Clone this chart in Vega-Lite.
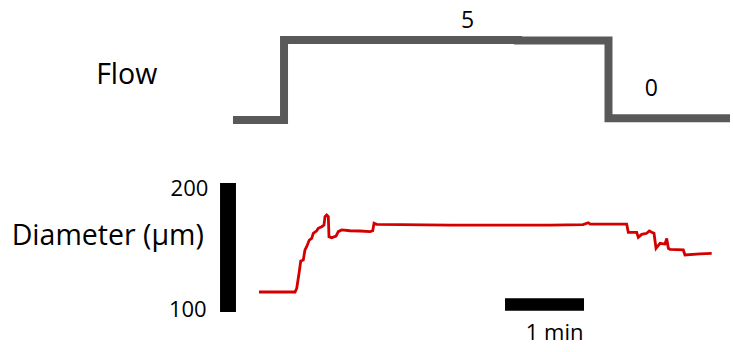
{
  "$schema": "https://vega.github.io/schema/vega-lite/v6.json",
  "width": 733,
  "height": 352,
  "autosize": {"type": "none"},
  "padding": 0,
  "background": "white",
  "config": {"view": {"stroke": null}},
  "datasets": {
    "flow": [
      {"t": -0.338, "flow": 0},
      {"t": 0.325, "flow": 5},
      {"t": 3.364, "flow": 4.97},
      {"t": 4.539, "flow": 0.11},
      {"t": 6.117, "flow": 0.11}
    ],
    "diam": [
      {"t": 0.0, "d": 115.5},
      {"t": 0.468, "d": 115.5},
      {"t": 0.49, "d": 118.4},
      {"t": 0.523, "d": 131.2},
      {"t": 0.542, "d": 139.5},
      {"t": 0.575, "d": 140.3},
      {"t": 0.597, "d": 148.1},
      {"t": 0.619, "d": 150.6},
      {"t": 0.653, "d": 155.8},
      {"t": 0.684, "d": 157.1},
      {"t": 0.705, "d": 161.0},
      {"t": 0.749, "d": 163.0},
      {"t": 0.77, "d": 164.9},
      {"t": 0.814, "d": 166.1},
      {"t": 0.844, "d": 167.4},
      {"t": 0.857, "d": 173.9},
      {"t": 0.879, "d": 175.2},
      {"t": 0.9, "d": 173.9},
      {"t": 0.909, "d": 158.4},
      {"t": 0.944, "d": 157.6},
      {"t": 1.0, "d": 158.9},
      {"t": 1.03, "d": 162.3},
      {"t": 1.074, "d": 163.6},
      {"t": 1.182, "d": 163.0},
      {"t": 1.312, "d": 162.8},
      {"t": 1.442, "d": 162.3},
      {"t": 1.477, "d": 163.0},
      {"t": 1.494, "d": 168.8},
      {"t": 1.529, "d": 168.0},
      {"t": 2.48, "d": 167.4},
      {"t": 3.78, "d": 167.4},
      {"t": 4.208, "d": 167.7},
      {"t": 4.277, "d": 169.2},
      {"t": 4.3, "d": 168.2},
      {"t": 4.775, "d": 168.2},
      {"t": 4.796, "d": 161.8},
      {"t": 4.905, "d": 161.8},
      {"t": 4.926, "d": 157.9},
      {"t": 4.97, "d": 160.2},
      {"t": 5.035, "d": 161.0},
      {"t": 5.069, "d": 162.8},
      {"t": 5.1, "d": 161.8},
      {"t": 5.13, "d": 161.0},
      {"t": 5.156, "d": 149.4},
      {"t": 5.208, "d": 153.3},
      {"t": 5.273, "d": 152.7},
      {"t": 5.295, "d": 157.1},
      {"t": 5.316, "d": 149.4},
      {"t": 5.338, "d": 148.6},
      {"t": 5.51, "d": 148.1},
      {"t": 5.532, "d": 144.2},
      {"t": 5.727, "d": 145.0},
      {"t": 5.879, "d": 145.5}
    ],
    "bars": [
      {"t": -0.506, "t2": -0.299, "d": 100, "d2": 200},
      {"t": 3.195, "t2": 4.221, "d": 101.0, "d2": 110.6}
    ]
  },
  "layer": [
    {
      "data": {"name": "flow"},
      "mark": {"type": "line", "interpolate": "step-after", "color": "#595959", "strokeWidth": 8, "strokeCap": "butt", "strokeJoin": "miter"},
      "encoding": {
        "x": {"field": "t", "type": "quantitative", "scale": {"domain": [-3.3636, 6.1558], "nice": false, "zero": false}, "axis": null},
        "y": {"field": "flow", "type": "quantitative", "scale": {"domain": [-14.5, 7.5], "nice": false, "zero": false}, "axis": null}
      }
    },
    {
      "data": {"values": [{"t": -1.718, "flow": 2.23, "label": "Flow"}]},
      "mark": {"type": "text", "font": "Open Sans", "fontSize": 28.5, "align": "center", "baseline": "alphabetic", "color": "#000000"},
      "encoding": {
        "x": {"field": "t", "type": "quantitative", "scale": {"domain": [-3.3636, 6.1558], "nice": false, "zero": false}, "axis": null},
        "y": {"field": "flow", "type": "quantitative", "scale": {"domain": [-14.5, 7.5], "nice": false, "zero": false}, "axis": null},
        "text": {"field": "label"}
      }
    },
    {
      "data": {"values": [{"t": 2.708, "flow": 5.73, "label": "5"}, {"t": 5.094, "flow": 1.52, "label": "0"}]},
      "mark": {"type": "text", "font": "Open Sans", "fontSize": 23, "align": "center", "baseline": "alphabetic", "color": "#000000"},
      "encoding": {
        "x": {"field": "t", "type": "quantitative", "scale": {"domain": [-3.3636, 6.1558], "nice": false, "zero": false}, "axis": null},
        "y": {"field": "flow", "type": "quantitative", "scale": {"domain": [-14.5, 7.5], "nice": false, "zero": false}, "axis": null},
        "text": {"field": "label"}
      }
    },
    {
      "data": {"name": "diam"},
      "mark": {"type": "line", "color": "#D40000", "strokeWidth": 2.8, "interpolate": "linear"},
      "encoding": {
        "x": {"field": "t", "type": "quantitative", "scale": {"domain": [-3.3636, 6.1558], "nice": false, "zero": false}, "axis": null},
        "y": {"field": "d", "type": "quantitative", "scale": {"domain": [69.0, 341.87], "nice": false, "zero": false}, "axis": null}
      }
    },
    {
      "data": {"name": "bars"},
      "mark": {"type": "rect", "color": "#000000"},
      "encoding": {
        "x": {"field": "t", "type": "quantitative", "scale": {"domain": [-3.3636, 6.1558], "nice": false, "zero": false}, "axis": null},
        "x2": {"field": "t2"},
        "y": {"field": "d", "type": "quantitative", "scale": {"domain": [69.0, 341.87], "nice": false, "zero": false}, "axis": null},
        "y2": {"field": "d2"}
      }
    },
    {
      "data": {"values": [{"t": -3.212, "d": 151.9, "label": "Diameter (µm)"}]},
      "mark": {"type": "text", "font": "Open Sans", "fontSize": 28.5, "align": "left", "baseline": "alphabetic", "color": "#000000"},
      "encoding": {
        "x": {"field": "t", "type": "quantitative", "scale": {"domain": [-3.3636, 6.1558], "nice": false, "zero": false}, "axis": null},
        "y": {"field": "d", "type": "quantitative", "scale": {"domain": [69.0, 341.87], "nice": false, "zero": false}, "axis": null},
        "text": {"field": "label"}
      }
    },
    {
      "data": {"values": [{"t": -0.658, "d": 189.9, "label": "200"}, {"t": -0.679, "d": 96.4, "label": "100"}]},
      "mark": {"type": "text", "font": "Open Sans", "fontSize": 22, "align": "right", "baseline": "alphabetic", "color": "#000000"},
      "encoding": {
        "x": {"field": "t", "type": "quantitative", "scale": {"domain": [-3.3636, 6.1558], "nice": false, "zero": false}, "axis": null},
        "y": {"field": "d", "type": "quantitative", "scale": {"domain": [69.0, 341.87], "nice": false, "zero": false}, "axis": null},
        "text": {"field": "label"}
      }
    },
    {
      "data": {"values": [{"t": 3.84, "d": 78.3, "label": "1 min"}]},
      "mark": {"type": "text", "font": "Open Sans", "fontSize": 22, "align": "center", "baseline": "alphabetic", "color": "#000000"},
      "encoding": {
        "x": {"field": "t", "type": "quantitative", "scale": {"domain": [-3.3636, 6.1558], "nice": false, "zero": false}, "axis": null},
        "y": {"field": "d", "type": "quantitative", "scale": {"domain": [69.0, 341.87], "nice": false, "zero": false}, "axis": null},
        "text": {"field": "label"}
      }
    }
  ],
  "resolve": {"scale": {"y": "independent"}}
}
